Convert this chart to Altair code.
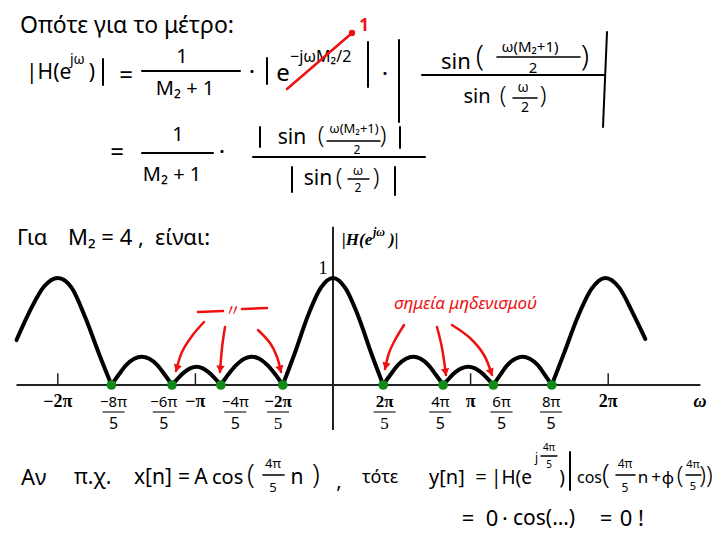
import math
import altair as alt
import pandas as pd

# ---------------- data ----------------
# |H(e^jw)| for M2 = 4 ; w given in units of pi
lobe_w = [
    [-2.30, -2.20, -2.10, -2.00, -1.90, -1.80, -1.70, -1.61],
    [-1.61, -1.555, -1.50, -1.445, -1.39, -1.335, -1.28, -1.225, -1.17],
    [-1.17, -1.125, -1.08, -1.035, -0.99, -0.95, -0.905, -0.86, -0.815],
    [-0.815, -0.76, -0.70, -0.645, -0.59, -0.535, -0.48, -0.42, -0.365],
    [-0.365, -0.28, -0.18, -0.09, 0.0, 0.09, 0.18, 0.28, 0.365],
    [0.365, 0.42, 0.475, 0.53, 0.583, 0.637, 0.69, 0.745, 0.80],
    [0.80, 0.846, 0.89, 0.937, 0.983, 1.028, 1.074, 1.12, 1.165],
    [1.165, 1.218, 1.27, 1.325, 1.378, 1.43, 1.485, 1.537, 1.59],
    [1.59, 1.68, 1.78, 1.88, 1.98, 2.08, 2.18, 2.27],
]
lobe_v = [
    [0.42, 0.70, 0.92, 1.00, 0.91, 0.63, 0.29, 0.0],
    [0.0, 0.10, 0.19, 0.245, 0.265, 0.245, 0.19, 0.10, 0.0],
    [0.0, 0.065, 0.12, 0.157, 0.17, 0.157, 0.12, 0.065, 0.0],
    [0.0, 0.10, 0.19, 0.245, 0.265, 0.245, 0.19, 0.10, 0.0],
    [0.0, 0.29, 0.655, 0.905, 1.00, 0.905, 0.655, 0.29, 0.0],
    [0.0, 0.10, 0.19, 0.245, 0.265, 0.245, 0.19, 0.10, 0.0],
    [0.0, 0.065, 0.12, 0.157, 0.17, 0.157, 0.12, 0.065, 0.0],
    [0.0, 0.10, 0.19, 0.245, 0.265, 0.245, 0.19, 0.10, 0.0],
    [0.0, 0.30, 0.64, 0.90, 1.00, 0.91, 0.67, 0.43],
]
zeros_w = [-1.61, -1.17, -0.815, -0.365, 0.365, 0.80, 1.165, 1.59]

pi_tick_w = [-2, -1, 1, 2]
pi_tick_lbl = ["−2π", "−π", "π", "2π"]

frac_w = [-1.595, -1.23, -0.71, -0.40, 0.375, 0.78, 1.225, 1.585]
frac_num = ["−8π", "−6π", "−4π", "−2π", "2π", "4π", "6π", "8π"]
frac_den = ["5", "5", "5", "5", "5", "5", "5", "5"]
frac_printed = [False, False, False, True, True, False, False, False]

axis_h = [-2.30, 2.67]
axis_v = [-0.42, 1.48]
tick_len = 0.11

# ---------------- layout helpers ----------------
HAND = "Noto Sans"
SERIF = "Liberation Serif"
RED = "#ee1111"
GREEN = "#13891a"
OFF = 8
X0, PX = 333.0, 137.6   # image x of w=0, px per pi
Y0, PY = 385.0, 107.0   # image y of v=0, px per unit
W_DOM = [(OFF - X0) / PX, (720 - OFF - X0) / PX]
V_DOM = [(Y0 - (540 - OFF)) / PY, (Y0 - OFF) / PY]

xs = alt.Scale(domain=W_DOM, nice=False, zero=False)
ys = alt.Scale(domain=V_DOM, nice=False, zero=False)

def to_w(px):
    return (px - X0) / PX

def to_v(py):
    return (Y0 - py) / PY

one = pd.DataFrame({"k": [0]})
layers = []

def T(s, x, y, size=22, color="black", font=HAND, align="center",
      style="normal", weight="normal"):
    layers.append(
        alt.Chart(one).mark_text(
            text=s, font=font, fontSize=size, color=color, align=align,
            baseline="middle", fontStyle=style, fontWeight=weight
        ).encode(x=alt.value(x - OFF), y=alt.value(y - OFF))
    )

def P(s, x, y, size=28):
    # thin handwritten-like parenthesis
    T(s, x, y, size, weight=300)

def L(x1, y1, x2, y2, w=2.0, color="black"):
    layers.append(
        alt.Chart(one).mark_rule(color=color, strokeWidth=w, strokeCap="round").encode(
            x=alt.value(x1 - OFF), y=alt.value(y1 - OFF),
            x2=alt.value(x2 - OFF), y2=alt.value(y2 - OFF)
        )
    )

# ---------------- formulas ----------------
T("Οπότε για το μέτρο:", 20, 26, 23, align="left")

# line 1
T("|H(e", 26, 73, 21, align="left")
T("jω", 70, 60, 14, align="left")
T(")", 92, 73, 21)
L(103, 59, 103, 85, 2)
T("=", 126, 76, 24)
T("1", 182, 57, 20)
L(142, 71, 240, 71, 2)
T("M₂ + 1", 185, 89, 20)
T("·", 252, 73, 24)
L(267, 58, 267, 84, 2)
T("e", 283, 74, 24)
T("−jωM₂/2", 290, 57, 16, align="left")
L(287, 89, 352, 33, 2.5, RED)
layers.append(
    alt.Chart(one).mark_point(filled=True, color=RED, size=40, opacity=1).encode(
        x=alt.value(352 - OFF), y=alt.value(33 - OFF))
)
T("1", 364, 26, 17, color=RED, weight="bold")
L(368, 42, 368, 87, 2)
T("·", 385, 75, 24)
L(399, 40, 399, 122, 2)
T("sin", 441, 62, 22, align="left")
P("(", 480, 57, 30)
T("ω(M₂+1)", 530, 47, 15)
L(497, 57, 580, 57, 1.6)
T("2", 533, 68, 15)
P(")", 585, 57, 30)
L(422, 75, 605, 75, 2)
T("sin", 477, 97, 20)
P("(", 503, 96, 24)
T("ω", 523, 88, 14)
L(513, 98, 537, 98, 1.5)
T("2", 525, 108, 14)
P(")", 543, 96, 24)
L(607, 32, 603, 127, 2)

# line 2
T("=", 117, 153, 24)
T("1", 178, 135, 20)
L(142, 153, 213, 153, 2)
T("M₂ + 1", 172, 175, 20)
T("·", 222, 153, 24)
L(260, 127, 260, 147, 2)
T("sin", 292, 138, 21)
P("(", 321, 136, 24)
T("ω(M₂+1)", 354, 129, 13)
L(327, 141, 380, 141, 1.4)
T("2", 357, 150, 12)
P(")", 383, 136, 24)
L(400, 127, 400, 148, 2)
L(253, 157, 425, 157, 2)
L(292, 167, 292, 192, 2)
T("sin", 318, 179, 21)
P("(", 339, 178, 24)
T("ω", 358, 171, 13)
L(348, 179, 369, 179, 1.4)
T("2", 358, 188, 12)
P(")", 376, 178, 24)
L(395, 167, 395, 195, 2)

T("Για", 17, 238, 22, align="left")
T("M₂ = 4 ,", 68, 238, 22, align="left")
T("είναι:", 155, 238, 22, align="left")

# ---------------- plot ----------------
rows = []
for i, (ws, vs) in enumerate(zip(lobe_w, lobe_v)):
    for w, v in zip(ws, vs):
        rows.append({"lobe": i, "w": w, "v": v})
curve_df = pd.DataFrame(rows)

X = lambda f: alt.X(f, scale=xs, axis=None)
Y = lambda f: alt.Y(f, scale=ys, axis=None)

hax = alt.Chart(pd.DataFrame({"w": [axis_h[0]], "w2": [axis_h[1]], "v": [0.0]})).mark_rule(
    color="#222222", strokeWidth=2).encode(x=X("w:Q"), x2="w2:Q", y=Y("v:Q"))
vax = alt.Chart(pd.DataFrame({"w": [0.0], "v": [axis_v[0]], "v2": [axis_v[1]]})).mark_rule(
    color="#222222", strokeWidth=2).encode(x=X("w:Q"), y=Y("v:Q"), y2="v2:Q")
ticks = alt.Chart(pd.DataFrame({"w": pi_tick_w, "v": [0.0] * 4, "v2": [tick_len] * 4})).mark_rule(
    color="#222222", strokeWidth=1.5).encode(x=X("w:Q"), y=Y("v:Q"), y2="v2:Q")
tick_lbl = alt.Chart(pd.DataFrame({"w": pi_tick_w, "v": [0.0] * 4, "t": pi_tick_lbl})).mark_text(
    font=SERIF, fontSize=18, fontWeight="bold", dy=17, baseline="middle").encode(
    x=X("w:Q"), y=Y("v:Q"), text="t:N")

fdf = pd.DataFrame({"w": frac_w, "v": [0.0] * 8, "n": frac_num, "d": frac_den, "p": frac_printed})
hand_f = fdf[~fdf.p]
print_f = fdf[fdf.p]
frac_layers = [
    alt.Chart(hand_f).mark_text(font=HAND, fontSize=15, dy=17, baseline="middle").encode(
        x=X("w:Q"), y=Y("v:Q"), text="n:N"),
    alt.Chart(hand_f).mark_text(font=HAND, fontSize=16, dy=39, baseline="middle").encode(
        x=X("w:Q"), y=Y("v:Q"), text="d:N"),
    alt.Chart(print_f).mark_text(font=SERIF, fontSize=17, fontWeight="bold", dy=17, baseline="middle").encode(
        x=X("w:Q"), y=Y("v:Q"), text="n:N"),
    alt.Chart(print_f).mark_text(font=SERIF, fontSize=17, dy=39, baseline="middle").encode(
        x=X("w:Q"), y=Y("v:Q"), text="d:N"),
    alt.Chart(fdf).mark_tick(orient="horizontal", size=22, thickness=1.5, color="black", yOffset=27).encode(
        x=X("w:Q"), y=Y("v:Q")),
]

curve = alt.Chart(curve_df).mark_line(
    color="black", strokeWidth=4, interpolate="monotone", strokeCap="round", strokeJoin="round"
).encode(x=X("w:Q"), y=Y("v:Q"), detail="lobe:N")

dots = alt.Chart(pd.DataFrame({"w": zeros_w, "v": [0.0] * 8})).mark_point(
    filled=True, color=GREEN, size=95, opacity=1).encode(x=X("w:Q"), y=Y("v:Q"))

layers += [hax, vax, ticks, tick_lbl] + frac_layers + [curve, dots]

T("|H(e", 342, 240, 17, font=SERIF, align="left", style="italic", weight="bold")
T("jω", 373, 232, 12, font=SERIF, align="left", style="italic", weight="bold")
T(")|", 389, 240, 17, font=SERIF, align="left", style="italic", weight="bold")
T("1", 323, 269, 18, font=SERIF)
T("ω", 700, 402, 18, font=SERIF, style="italic", weight="bold")

# ---------------- red annotations ----------------
L(198, 312, 223, 311, 2.5, RED)
L(242, 309, 267, 308, 2.5, RED)
T("〃", 233, 311, 16, color=RED, font="Noto Sans CJK JP")
T("σημεία μηδενισμού", 394, 304, 17, color=RED, align="left", style="italic")

arrows = [
    [(204, 322), (192, 336), (182, 352), (176, 371)],
    [(225, 327), (222, 348), (220, 372)],
    [(258, 330), (270, 343), (277, 357), (281, 372)],
    [(404, 325), (395, 340), (389, 353), (385, 369)],
    [(437, 327), (442, 348), (446, 375)],
    [(452, 325), (470, 338), (484, 355), (492, 375)],
]
arows = []
for j, path in enumerate(arrows):
    for i, (px, py) in enumerate(path):
        arows.append({"a": j, "i": i, "w": to_w(px), "v": to_v(py)})
layers.append(
    alt.Chart(pd.DataFrame(arows)).mark_line(
        color=RED, strokeWidth=2.5, interpolate="cardinal", strokeCap="round"
    ).encode(x=X("w:Q"), y=Y("v:Q"), detail="a:N", order="i:Q")
)
for path in arrows:
    (x1, y1), (x2, y2) = path[-2], path[-1]
    dx, dy = x2 - x1, y2 - y1
    n = math.hypot(dx, dy)
    dx, dy = dx / n, dy / n
    ang = math.degrees(math.atan2(dx, -dy)) % 360
    cx, cy = x2 - 4 * dx, y2 - 4 * dy
    layers.append(
        alt.Chart(pd.DataFrame({"w": [to_w(cx)], "v": [to_v(cy)]})).mark_point(
            shape="triangle", filled=True, color=RED, size=70, angle=ang, opacity=1
        ).encode(x=X("w:Q"), y=Y("v:Q"))
    )

# ---------------- bottom text ----------------
T("Αν", 21, 478, 22, align="left")
T("π.χ.", 74, 478, 21, align="left")
T("x[n]", 134, 478, 21, align="left")
T("=", 184, 478, 21)
T("A", 201, 478, 21)
T("cos", 212, 478, 20, align="left")
P("(", 251, 476, 28)
T("4π", 273, 464, 13)
L(263, 475, 284, 475, 1.6)
T("5", 273, 488, 13)
T("n", 297, 478, 21)
P(")", 316, 476, 28)
T(",", 339, 482, 20)
T("τότε", 362, 478, 18, align="left")
T("y[n]", 429, 478, 20, align="left")
T("=", 481, 478, 20)
T("|H(e", 491, 478, 19, align="left")
T("j", 535, 458, 12, align="left")
T("4π", 549, 448, 10)
L(541, 456, 557, 456, 1.3)
T("5", 549, 465, 10)
T(")", 562, 478, 19)
L(570, 452, 570, 490, 2)
T("cos", 577, 478, 16, align="left")
P("(", 606, 476, 28)
T("4π", 625, 464, 12)
L(616, 475, 635, 475, 1.5)
T("5", 625, 488, 12)
T("n", 643, 478, 17)
T("+", 656, 478, 17)
T("φ", 668, 479, 17)
P("(", 680, 476, 24)
T("4π", 693, 465, 11)
L(686, 475, 701, 475, 1.4)
T("5", 693, 487, 11)
P("))", 706, 476, 24)

T("=", 468, 519, 22)
T("0", 492, 519, 22)
T("·", 505, 519, 22)
T("cos(…)", 513, 519, 21, align="left")
T("=", 606, 519, 22)
T("0", 626, 519, 22)
T("!", 641, 519, 22)

chart = alt.layer(*layers).properties(
    width=704, height=524, padding=0, autosize="none", background="white"
).configure_view(strokeWidth=0)

chart.save("out.html", embed_options={"renderer": "svg", "actions": False})
